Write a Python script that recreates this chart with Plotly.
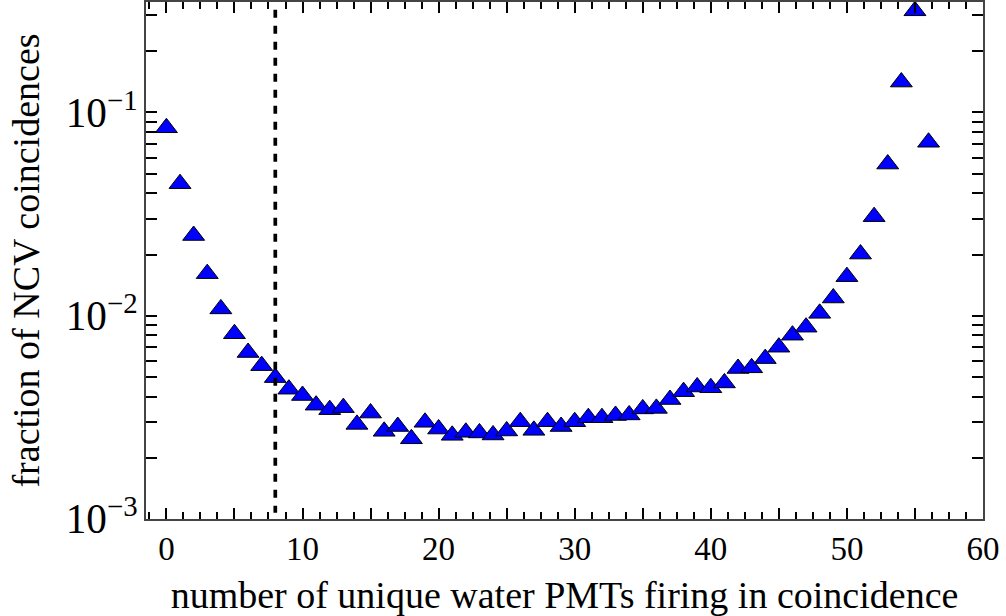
import plotly.graph_objects as go

# number of unique water PMTs firing in coincidence
n_pmts = list(range(0, 57))

# fraction of NCV coincidences (log scale)
fraction = [
    0.0840, 0.0446, 0.0248, 0.0161, 0.0108, 0.00815, 0.00659, 0.00568, 0.00496, 0.00435,
    0.00405, 0.00363, 0.00345, 0.00353, 0.00292, 0.00332, 0.00270, 0.00285, 0.00248, 0.00299,
    0.00277, 0.00258, 0.00267, 0.00265, 0.00259, 0.00271, 0.00301, 0.00273, 0.00301, 0.00285,
    0.00301, 0.00315, 0.00315, 0.00323, 0.00325, 0.00348, 0.00350, 0.00387, 0.00423, 0.00446,
    0.00442, 0.00467, 0.00550, 0.00554, 0.00615, 0.00700, 0.00802, 0.00878, 0.01027, 0.01222,
    0.01556, 0.0201, 0.0307, 0.0557, 0.141, 0.316, 0.0713,
]

threshold = 8

x_tickvals = [0, 5, 10, 15, 20, 25, 30, 35, 40, 45, 50, 55, 60]
x_ticktext = ["0", "", "10", "", "20", "", "30", "", "40", "", "50", "", "60"]

FONT = "Liberation Serif"
TICK_SIZE = 33
TITLE_SIZE = 38

fig = go.Figure()
fig.add_trace(go.Scatter(
    x=n_pmts, y=fraction, mode="markers",
    marker=dict(symbol="triangle-up", size=19, color="#0000ff",
                line=dict(color="black", width=1)),
    showlegend=False, cliponaxis=False,
))

fig.add_shape(type="line", xref="x", yref="paper",
              x0=threshold, x1=threshold, y0=0.985, y1=0.012,
              line=dict(color="black", width=3.7, dash="8px,8px"))

fig.update_layout(
    width=1006, height=616,
    margin=dict(l=146, r=23, t=2, b=97),
    plot_bgcolor="white", paper_bgcolor="white",
    font=dict(family=FONT, size=TICK_SIZE, color="black"),
)

fig.update_xaxes(
    range=[-1.5, 60], showgrid=False, zeroline=False, automargin=False,
    showline=True, linecolor="#444444", linewidth=1.5, mirror="ticks",
    ticks="inside", ticklen=11, tickwidth=2, tickcolor="black",
    tickvals=x_tickvals, ticktext=x_ticktext,
    minor=dict(ticks="inside", ticklen=7, tickwidth=2, tickcolor="black",
               dtick=1.25, tick0=0, showgrid=False),
    tickfont=dict(family=FONT, size=TICK_SIZE),
    title=dict(text="number of unique water PMTs firing in coincidence",
               font=dict(family=FONT, size=TITLE_SIZE), standoff=15),
)

fig.update_yaxes(
    type="log", range=[-3, -0.457], showgrid=False, zeroline=False, automargin=False,
    showline=True, linecolor="#444444", linewidth=1.5, mirror="ticks",
    ticks="inside", ticklen=11, tickwidth=2, tickcolor="black",
    dtick=1, exponentformat="power",
    minor=dict(ticks="inside", ticklen=11, tickwidth=2, tickcolor="black",
               dtick="D1", showgrid=False),
    tickfont=dict(family=FONT, size=TICK_SIZE),
    title=dict(text="fraction of NCV coincidences",
               font=dict(family=FONT, size=TITLE_SIZE), standoff=14),
)

fig.write_html(
    "out.html",
    config={"displayModeBar": False},
    post_script="document.body.style.margin='0';document.body.style.overflow='hidden';",
)
